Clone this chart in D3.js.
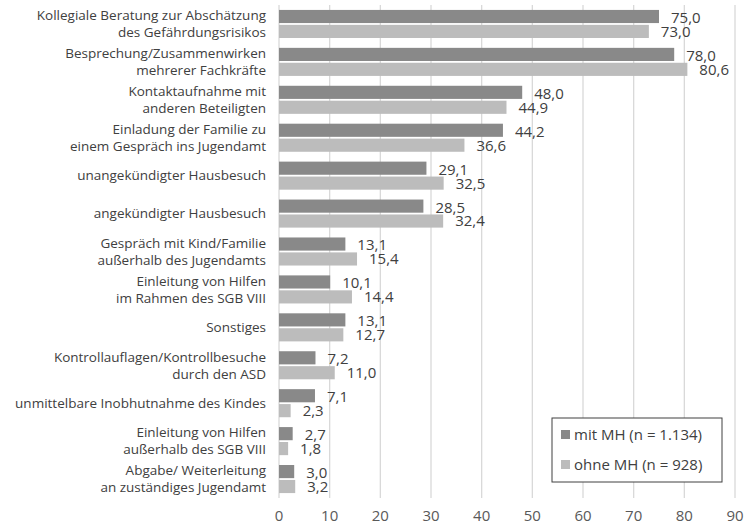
<!DOCTYPE html>
<html>
<head>
<meta charset="utf-8">
<script src="https://cdn.jsdelivr.net/npm/d3@7"></script>
<style>
  body { margin: 0; background: #fff; }
  text { font-family: "Open Sans", "Noto Sans", sans-serif; }
</style>
</head>
<body>
<div id="chart"></div>
<script>
var svgWidth = 747;
var svgHeight = 531;

var categories = [
  ["Kollegiale Beratung zur Abschätzung", "des Gefährdungsrisikos"],
  ["Besprechung/Zusammenwirken", "mehrerer Fachkräfte"],
  ["Kontaktaufnahme mit", "anderen Beteiligten"],
  ["Einladung der Familie zu", "einem Gespräch ins Jugendamt"],
  ["unangekündigter Hausbesuch"],
  ["angekündigter Hausbesuch"],
  ["Gespräch mit Kind/Familie", "außerhalb des Jugendamts"],
  ["Einleitung von Hilfen", "im Rahmen des SGB VIII"],
  ["Sonstiges"],
  ["Kontrollauflagen/Kontrollbesuche", "durch den ASD"],
  ["unmittelbare Inobhutnahme des Kindes"],
  ["Einleitung von Hilfen", "außerhalb des SGB VIII"],
  ["Abgabe/ Weiterleitung", "an zuständiges Jugendamt"]
];
var mitMH = [75.0, 78.0, 48.0, 44.2, 29.1, 28.5, 13.1, 10.1, 13.1, 7.2, 7.1, 2.7, 3.0];
var ohneMH = [73.0, 80.6, 44.9, 36.6, 32.5, 32.4, 15.4, 14.4, 12.7, 11.0, 2.3, 1.8, 3.2];
var seriesNames = ["mit MH (n = 1.134)", "ohne MH (n = 928)"];
var xTicks = [0, 10, 20, 30, 40, 50, 60, 70, 80, 90];

var colors = ["#898989", "#bcbcbc"];
var textColor = "#404040";

var margin = { top: 5, right: 12, bottom: 33, left: 279 };
var width = svgWidth - margin.left - margin.right;
var height = svgHeight - margin.top - margin.bottom;

var svg = d3.select("#chart")
  .append("svg")
  .attr("width", svgWidth)
  .attr("height", svgHeight);

var chartGroup = svg.append("g")
  .attr("transform", `translate(${margin.left}, ${margin.top})`);

var x = d3.scaleLinear().domain([0, 90]).range([0, 456]);

var y = d3.scaleBand()
  .domain(d3.range(categories.length))
  .range([0, height])
  .paddingInner(0.26)
  .paddingOuter(0.13);

var ySub = d3.scaleBand()
  .domain([0, 1])
  .range([0, y.bandwidth()])
  .paddingInner(0.12);

// gridlines
chartGroup.selectAll(".grid")
  .data(xTicks)
  .enter()
  .append("line")
  .attr("x1", d => x(d))
  .attr("x2", d => x(d))
  .attr("y1", 0)
  .attr("y2", height)
  .attr("stroke", "#d9d9d9")
  .attr("stroke-width", 1.3);

var rows = categories.map((c, i) => ({ i: i, vals: [mitMH[i], ohneMH[i]] }));

var rowGroups = chartGroup.selectAll(".row")
  .data(rows)
  .enter()
  .append("g")
  .attr("transform", d => `translate(0, ${y(d.i)})`);

rowGroups.selectAll("rect")
  .data(d => d.vals.map((v, s) => ({ v: v, s: s })))
  .enter()
  .append("rect")
  .attr("x", x(0))
  .attr("y", d => ySub(d.s))
  .attr("width", d => x(d.v) - x(0))
  .attr("height", ySub.bandwidth())
  .attr("fill", d => colors[d.s]);

rowGroups.selectAll(".val")
  .data(d => d.vals.map((v, s) => ({ v: v, s: s })))
  .enter()
  .append("text")
  .attr("x", d => x(d.v) + 12)
  .attr("y", d => ySub(d.s) + ySub.bandwidth() / 2 + (d.s === 0 ? 1 : 0))
  .attr("dy", "0.36em")
  .attr("font-size", "15px")
  .attr("fill", textColor)
  .text(d => d3.format(".1f")(d.v).replace(".", ","));

// category labels
var catLabels = chartGroup.selectAll(".cat")
  .data(categories)
  .enter()
  .append("text")
  .attr("text-anchor", "end")
  .attr("font-size", "13.5px")
  .attr("fill", textColor)
  .attr("transform", (d, i) => `translate(-13, ${y(i) + y.bandwidth() / 2})`);

catLabels.selectAll("tspan")
  .data(d => d.map((line, k) => ({ line: line, k: k, n: d.length })))
  .enter()
  .append("tspan")
  .attr("x", 0)
  .attr("y", d => (d.k - (d.n - 1) / 2) * 17)
  .attr("dy", "0.35em")
  .text(d => d.line);

// x axis labels
chartGroup.selectAll(".tick")
  .data(xTicks)
  .enter()
  .append("text")
  .attr("x", d => x(d))
  .attr("y", height + 23)
  .attr("text-anchor", "middle")
  .attr("font-size", "15px")
  .attr("fill", "#595959")
  .text(d => d);

// legend
var legend = svg.append("g").attr("transform", "translate(552, 418)");
legend.append("rect")
  .attr("width", 170)
  .attr("height", 64)
  .attr("fill", "#fff")
  .attr("stroke", "#404040")
  .attr("stroke-width", 1);

var legItems = legend.selectAll(".leg")
  .data(seriesNames)
  .enter()
  .append("g")
  .attr("transform", (d, i) => `translate(9, ${16 + i * 30})`);

legItems.append("rect")
  .attr("y", -4)
  .attr("width", 9)
  .attr("height", 9)
  .attr("fill", (d, i) => colors[i]);

legItems.append("text")
  .attr("x", 13)
  .attr("y", 1)
  .attr("dy", "0.35em")
  .attr("font-size", "15px")
  .attr("fill", textColor)
  .text(d => d);
</script>
</body>
</html>
